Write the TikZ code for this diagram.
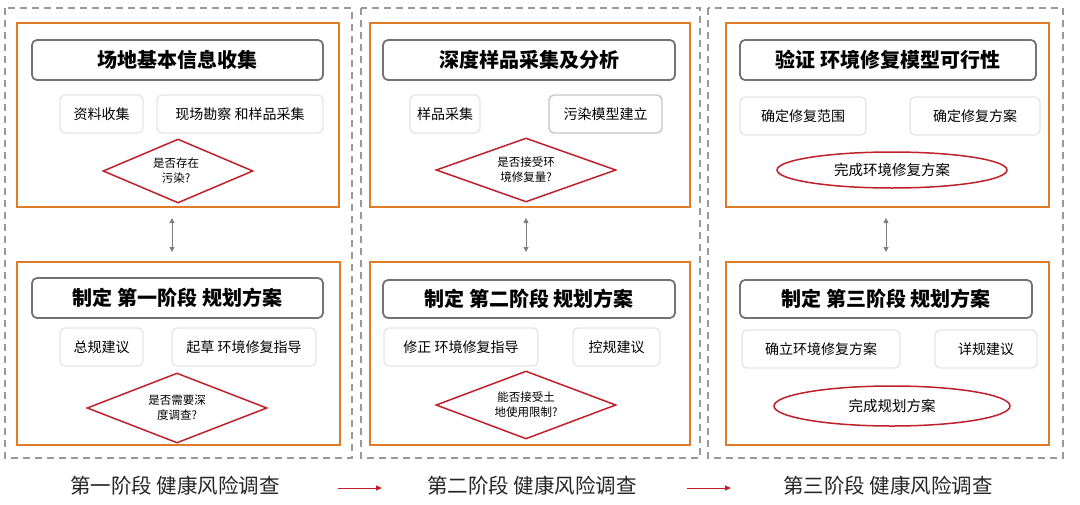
\documentclass[tikz,border=0pt]{standalone}
\usepackage{fontspec}
\setmainfont{Noto Sans CJK SC}
\usetikzlibrary{shapes.geometric,arrows.meta}
\definecolor{org}{HTML}{E07B28}
\definecolor{dred}{HTML}{C0202A}
\definecolor{gborder}{HTML}{E6E6E6}
\tikzset{x=1pt,y=-1pt,
 dashbox/.style={draw=gray!80,line width=1.6pt,dash pattern=on 7pt off 5pt},
 obox/.style={draw=org,line width=1.6pt},
 tbox/.style={draw=gray!90!black,line width=1.8pt,rounded corners=5pt},
 sbox/.style={draw=gborder,line width=1.4pt,rounded corners=5pt},
 dia/.style={diamond,draw=dred,line width=1.5pt,inner sep=0pt},
 dtext/.style={align=center,inner sep=0pt,font=\fontsize{11.5}{15}\selectfont},
 ell/.style={ellipse,draw=dred,line width=1.5pt,inner sep=0pt,font=\fontsize{14.5}{16}\selectfont},
 ttext/.style={font=\fontsize{20}{22}\selectfont\bfseries},
 stext/.style={font=\fontsize{14}{15}\selectfont},
 ctext/.style={font=\fontsize{20.5}{22}\selectfont,text=black!85},
 darr/.style={{Triangle[length=5pt,width=5pt]}-{Triangle[length=5pt,width=5pt]},draw=gray,line width=1pt},
 rarr/.style={-{Triangle[length=6pt,width=5pt]},draw=dred,line width=1pt}}
\begin{document}
\begin{tikzpicture}
\useasboundingbox[fill=white] (0,0) rectangle (1080,504);
% panels
\draw[dashbox] (5,8) rectangle (352,458);
\draw[dashbox] (361,8) rectangle (700,458);
\draw[dashbox] (708,8) rectangle (1063,458);
% orange boxes
\draw[obox] (17,23) rectangle (339,207);
\draw[obox] (17,262) rectangle (340,445);
\draw[obox] (370,23) rectangle (690,207);
\draw[obox] (370,262) rectangle (690,445);
\draw[obox] (726,23) rectangle (1049,207);
\draw[obox] (726,262) rectangle (1049,445);
% panel 1 top
\draw[tbox] (32,40) rectangle (323,80); \node[ttext] (t1) at (177.5,60) {场地基本信息收集};
\draw[sbox] (60,95) rectangle (143,133); \node[stext] (a1) at (101.5,114) {资料收集};
\draw[sbox] (157,95) rectangle (323,133); \node[stext] (a2) at (240,114) {现场勘察 和样品采集};
\node[dia,minimum width=150pt,minimum height=64pt] (d1) at (178,171) {};
\node[dtext] (d1t) at (176,171) {是否存在\\污染?};
% panel 1 bottom
\draw[tbox] (32,278) rectangle (323,318); \node[ttext] (t2) at (177.5,298) {制定 第一阶段 规划方案};
\draw[sbox] (60,328) rectangle (143,366); \node[stext] (b1) at (101.5,347) {总规建议};
\draw[sbox] (172,328) rectangle (316,366); \node[stext] (b2) at (244,347) {起草 环境修复指导};
\node[dia,minimum width=180pt,minimum height=70pt] (d2) at (177,408) {};
\node[dtext] (d2t) at (177,408) {是否需要深\\度调查?};
\coordinate (p1a) at (172,218); \coordinate (p1b) at (172,252);
\draw[darr] (p1a) -- (p1b);
% panel 2 top
\draw[tbox] (383,40) rectangle (675,80); \node[ttext] (t3) at (529,60) {深度样品采集及分析};
\draw[sbox] (410,95) rectangle (480,133); \node[stext] (c1) at (445,114) {样品采集};
\draw[sbox,draw=gray!45] (549,95) rectangle (662,133); \node[stext] (c2) at (605.5,114) {污染模型建立};
\node[dia,minimum width=180pt,minimum height=64pt] (d3) at (526,170) {};
\node[dtext] (d3t) at (526,170) {是否接受环\\境修复量?};
% panel 2 bottom
\draw[tbox] (383,280) rectangle (675,318); \node[ttext] (t4) at (529,299) {制定 第二阶段 规划方案};
\draw[sbox] (384,328) rectangle (538,366); \node[stext] (e1) at (461,347) {修正 环境修复指导};
\draw[sbox] (573,328) rectangle (660,366); \node[stext] (e2) at (616.5,347) {控规建议};
\node[dia,minimum width=180pt,minimum height=68pt] (d4) at (526,405) {};
\node[dtext] (d4t) at (526,405) {能否接受土\\地使用限制?};
\coordinate (p2a) at (526,218); \coordinate (p2b) at (526,252);
\draw[darr] (p2a) -- (p2b);
% panel 3 top
\draw[tbox] (740,40) rectangle (1036,80); \node[ttext] (t5) at (888,60) {验证 环境修复模型可行性};
\draw[sbox] (740,97) rectangle (866,135); \node[stext] (f1) at (803,116) {确定修复范围};
\draw[sbox] (910,97) rectangle (1040,135); \node[stext] (f2) at (975,116) {确定修复方案};
\node[ell,minimum width=230pt,minimum height=36pt] (g1) at (892,170) {完成环境修复方案};
% panel 3 bottom
\draw[tbox] (740,280) rectangle (1032,318); \node[ttext] (t6) at (886,299) {制定 第三阶段 规划方案};
\draw[sbox] (742,330) rectangle (900,368); \node[stext] (h1) at (821,349) {确立环境修复方案};
\draw[sbox] (935,330) rectangle (1037,368); \node[stext] (h2) at (986,349) {详规建议};
\node[ell,minimum width=236pt,minimum height=40pt] (g2) at (892,406) {完成规划方案};
\coordinate (p3a) at (886,218); \coordinate (p3b) at (886,252);
\draw[darr] (p3a) -- (p3b);
% captions
\node[ctext] (k1) at (175,486) {第一阶段 健康风险调查};
\node[ctext] (k2) at (532,486) {第二阶段 健康风险调查};
\node[ctext] (k3) at (888,486) {第三阶段 健康风险调查};
\coordinate (r1a) at (338,488); \coordinate (r1b) at (382,488);
\coordinate (r2a) at (687,488); \coordinate (r2b) at (731,488);
\draw[rarr] (r1a) -- (r1b);
\draw[rarr] (r2a) -- (r2b);
\end{tikzpicture}
\end{document}
